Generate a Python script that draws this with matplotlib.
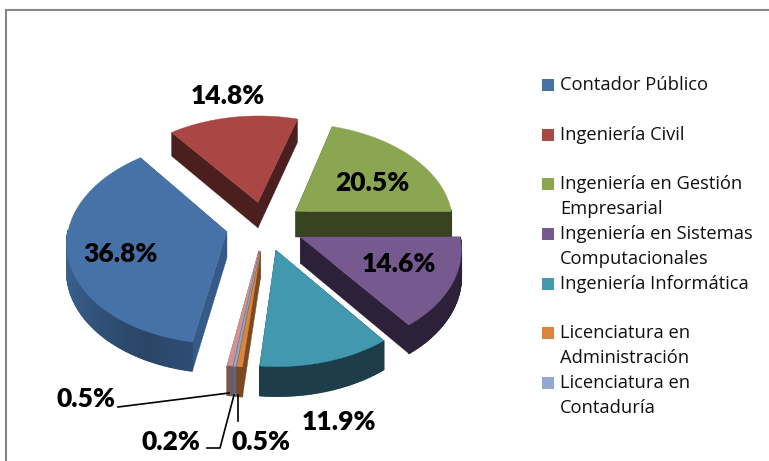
import numpy as np
import matplotlib
matplotlib.use("Agg")
import matplotlib.pyplot as plt
from matplotlib.patches import Polygon, Rectangle

plt.rcParams["font.family"] = ["Lato", "DejaVu Sans"]

careers = [
    "Contador Público",
    "Ingeniería Civil",
    "Ingeniería en Gestión\nEmpresarial",
    "Ingeniería en Sistemas\nComputacionales",
    "Ingeniería Informática",
    "Licenciatura en\nAdministración",
    "Licenciatura en\nContaduría",
    "",
]
shares = [36.8, 14.8, 20.5, 14.6, 11.9, 0.5, 0.2, 0.5]
colors = ["#4672A8", "#AA4643", "#8BA650", "#75598F", "#4198AF", "#DB843D", "#93A9CF", "#D19392"]
cut_colors = ["#355A88", "#4A1F1E", "#3A4320", "#2C2139", "#1C3D49", "#7C4A20", "#56688A", "#7A5756"]
rim_colors = ["#3A6190", "#4A1F1E", "#3A4320", "#2C2139", "#1C3D49", "#7C4A20", "#56688A", "#7A5756"]
label_pos = [(120, 254), (228, 96), (372, 183), (399, 264), (339, 422), (261, 442), (171, 442), (86, 399)]

CX, CY = 265, 226
R = 158
TILT = 0.63
PERSP = 0.10
EXPLODE = 39
DEPTH = 26
START = 99.9


def project(x, y):
    s = 1 / (1 - PERSP * y / R)
    return CX + s * x, CY + s * TILT * y, s


def shade(col, f):
    return tuple(min(1, c * f) for c in matplotlib.colors.to_rgb(col))


fig = plt.figure(figsize=(7.69, 4.61), dpi=100)
ax = fig.add_axes([0, 0, 1, 1])
ax.set_xlim(0, 769)
ax.set_ylim(461, 0)
ax.axis("off")

# frame of the chart area, cut off on the right and at the bottom
ax.plot([6, 6, 769], [461, 10, 10], color="#868686", lw=1.5, solid_joinstyle="miter")

edges = np.cumsum([0] + shares) / sum(shares) * 360 + START
slices = []
for i in range(len(shares)):
    a0, a1 = np.radians(edges[i]), np.radians(edges[i + 1])
    mid = (a0 + a1) / 2
    ox, oy = EXPLODE * np.cos(mid), EXPLODE * np.sin(mid)
    th = np.linspace(a0, a1, max(4, int(np.degrees(a1 - a0)) * 2))
    px, py, ps = project(ox + R * np.cos(th), oy + R * np.sin(th))
    ax_, ay_, as_ = project(ox, oy)
    slices.append((ay_, i, th, px, py, ps, ax_, ay_, as_))

for _, i, th, px, py, ps, x0, y0, s0 in sorted(slices, key=lambda t: t[0]):
    d0 = DEPTH * s0
    # the two flat cuts
    for k in (0, -1):
        d = DEPTH * ps[k]
        ax.add_patch(Polygon([(x0, y0), (px[k], py[k]), (px[k], py[k] + d), (x0, y0 + d0)],
                             fc=cut_colors[i], ec=cut_colors[i], lw=0.3))
    # outer rim, only the part facing the viewer
    for k in range(len(th) - 1):
        if np.sin((th[k] + th[k + 1]) / 2) < -0.02:
            continue
        f = 1.0
        if i == 0:
            f = 1.0 - 0.35 * np.clip(np.sin(th[k]), 0, 1) ** 2 + 0.3 * np.clip(np.sin(th[k]) - 0.9, 0, 1) * 5
        c = shade(rim_colors[i], f)
        ax.add_patch(Polygon([(px[k], py[k]), (px[k + 1], py[k + 1]),
                              (px[k + 1], py[k + 1] + DEPTH * ps[k + 1]), (px[k], py[k] + DEPTH * ps[k])],
                             fc=c, ec=c, lw=1.0))
    ax.add_patch(Polygon(np.column_stack([np.r_[x0, px], np.r_[y0, py]]),
                         fc=colors[i], ec=colors[i], lw=0.3))

for val, (x, y) in zip(shares, label_pos):
    ax.text(x, y, f"{val}%", ha="center", va="center", fontsize=19, fontweight="heavy", color="black")

# leader lines for the three thin slices
ax.plot([118, 150, 229], [407, 403, 393], color="black", lw=1.2)
ax.plot([207, 220, 234], [448, 448, 395], color="black", lw=1.2)
ax.plot([238, 238], [395, 421], color="black", lw=1.2)

# legend
legend_rows = [85, 135, 184, 234, 284, 333, 383]
for name, col, y in zip(careers, colors, legend_rows):
    ax.add_patch(Rectangle((542, y - 6), 12, 12, fc=col, ec="none"))
    for j, line in enumerate(name.split("\n")):
        ax.text(560, y + j * 25, line, ha="left", va="center", fontsize=13.2, color="#111111", family="Open Sans")

fig.savefig("out.png", dpi=100, facecolor="white")
